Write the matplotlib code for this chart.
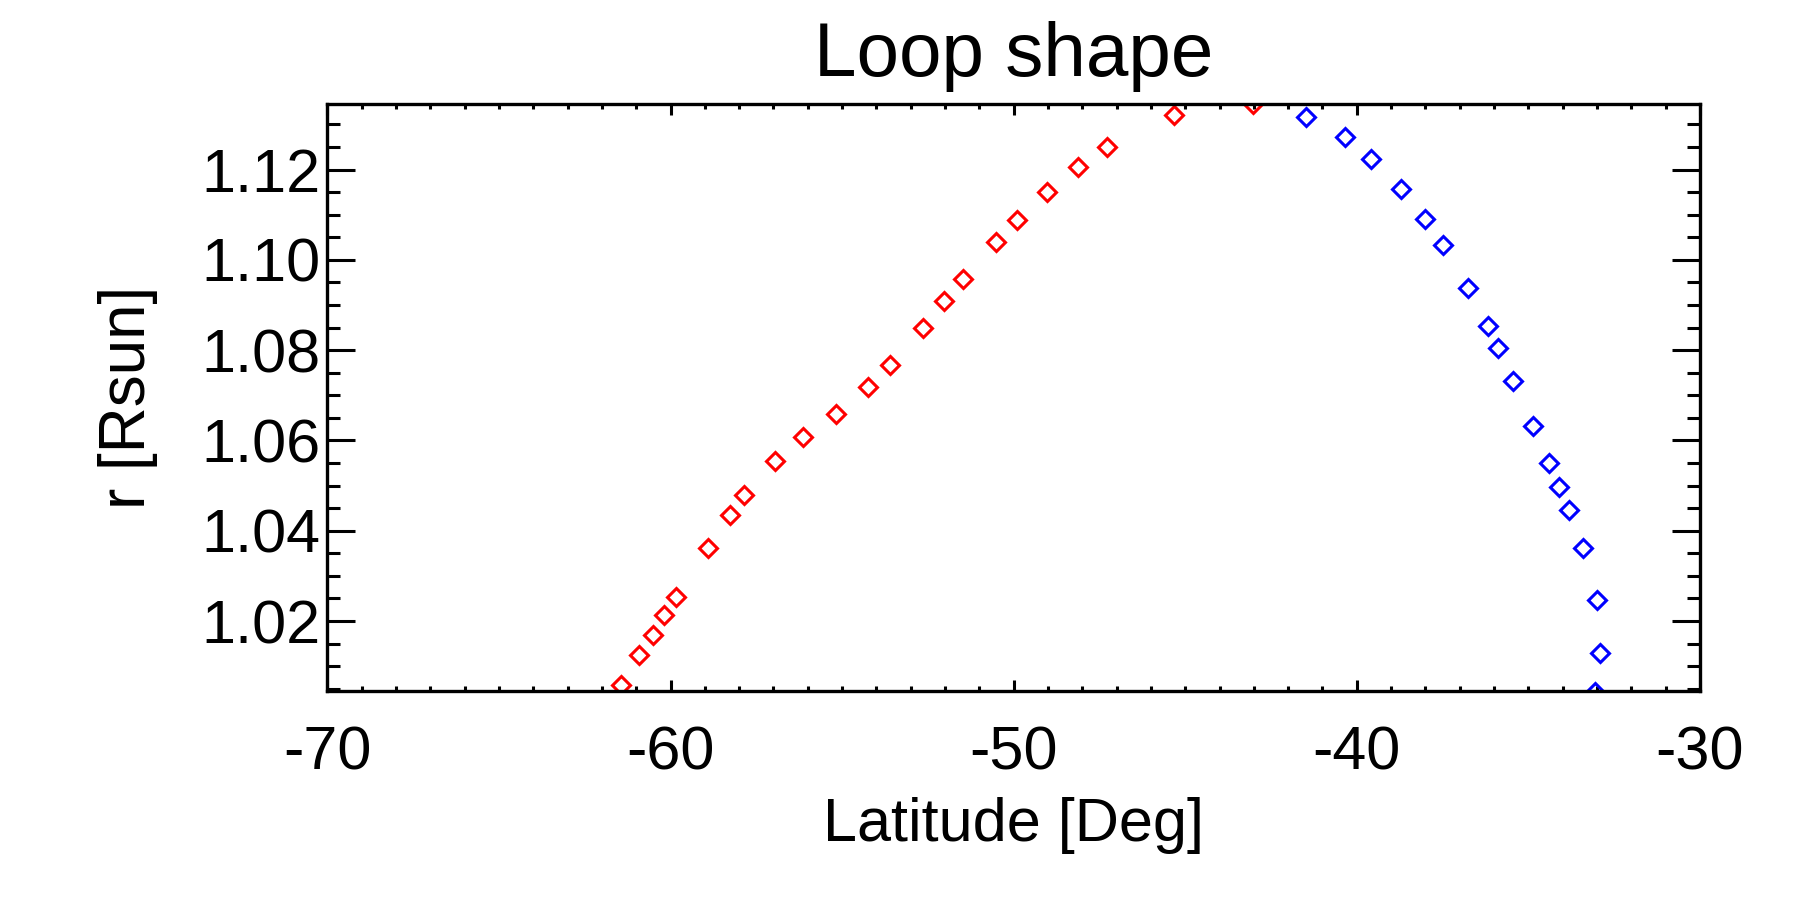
import numpy as np
import matplotlib
matplotlib.use("Agg")
import matplotlib.pyplot as plt
from matplotlib.ticker import MultipleLocator, FormatStrFormatter

# ---------------------- DATA ----------------------
# loop footpoint leg 1 (red) and leg 2 (blue)
lat_red = [-61.43, -60.91, -60.52, -60.19, -59.85, -58.90, -58.27, -57.85,
           -56.95, -56.13, -55.18, -54.24, -53.61, -52.65, -52.02, -51.49,
           -50.52, -49.89, -49.02, -48.12, -47.28, -45.32, -43.02]
r_red = [1.0058, 1.0124, 1.0169, 1.0214, 1.0253, 1.0361, 1.0434, 1.0479,
         1.0555, 1.0608, 1.0659, 1.0718, 1.0767, 1.0850, 1.0909, 1.0957,
         1.1040, 1.1088, 1.1150, 1.1206, 1.1249, 1.1320, 1.1345]

lat_blue = [-41.49, -40.35, -39.58, -38.71, -38.02, -37.50, -36.77, -36.19,
            -35.88, -35.46, -34.87, -34.39, -34.11, -33.83, -33.40, -33.00,
            -32.91, -33.06]
r_blue = [1.1317, 1.1271, 1.1224, 1.1156, 1.1091, 1.1032, 1.0938, 1.0854,
          1.0804, 1.0732, 1.0632, 1.0549, 1.0497, 1.0447, 1.0361, 1.0246,
          1.0130, 1.0043]

# ---------------------- STYLE ----------------------
plt.rcParams['font.family'] = ['Liberation Sans', 'DejaVu Sans']
plt.rcParams['axes.unicode_minus'] = False

fig = plt.figure(figsize=(18, 9), dpi=100)
ax = fig.add_axes([0.1819, 0.2322, 0.7625, 0.6522])

ax.plot(lat_red, r_red, linestyle='none', marker='D', markersize=9.2,
        markerfacecolor='none', markeredgecolor='#ff0000', markeredgewidth=2.2)
ax.plot(lat_blue, r_blue, linestyle='none', marker='D', markersize=9.2,
        markerfacecolor='none', markeredgecolor='#0000ff', markeredgewidth=2.2)

ax.set_xlim(-70, -30)
ax.set_ylim(1.0045, 1.1345)

ax.xaxis.set_major_locator(MultipleLocator(10))
ax.xaxis.set_minor_locator(MultipleLocator(1))
ax.yaxis.set_major_locator(MultipleLocator(0.02))
ax.yaxis.set_minor_locator(MultipleLocator(0.005))
ax.yaxis.set_major_formatter(FormatStrFormatter('%.2f'))

for s in ax.spines.values():
    s.set_linewidth(2.4)

ax.tick_params(axis='both', which='both', direction='in', top=True, right=True,
               width=2.2, labelsize=44)
ax.tick_params(axis='x', which='major', length=8, pad=25)
ax.tick_params(axis='x', which='minor', length=3.8)
ax.tick_params(axis='y', which='major', length=20, pad=5)
ax.tick_params(axis='y', which='minor', length=9.7)

ax.set_xlabel("Latitude [Deg]", fontsize=44, labelpad=10)
ax.set_ylabel("r [Rsun]", fontsize=46, labelpad=31)
ax.set_title("Loop shape", fontsize=55, pad=20)

plt.savefig("out.png", dpi=100)
